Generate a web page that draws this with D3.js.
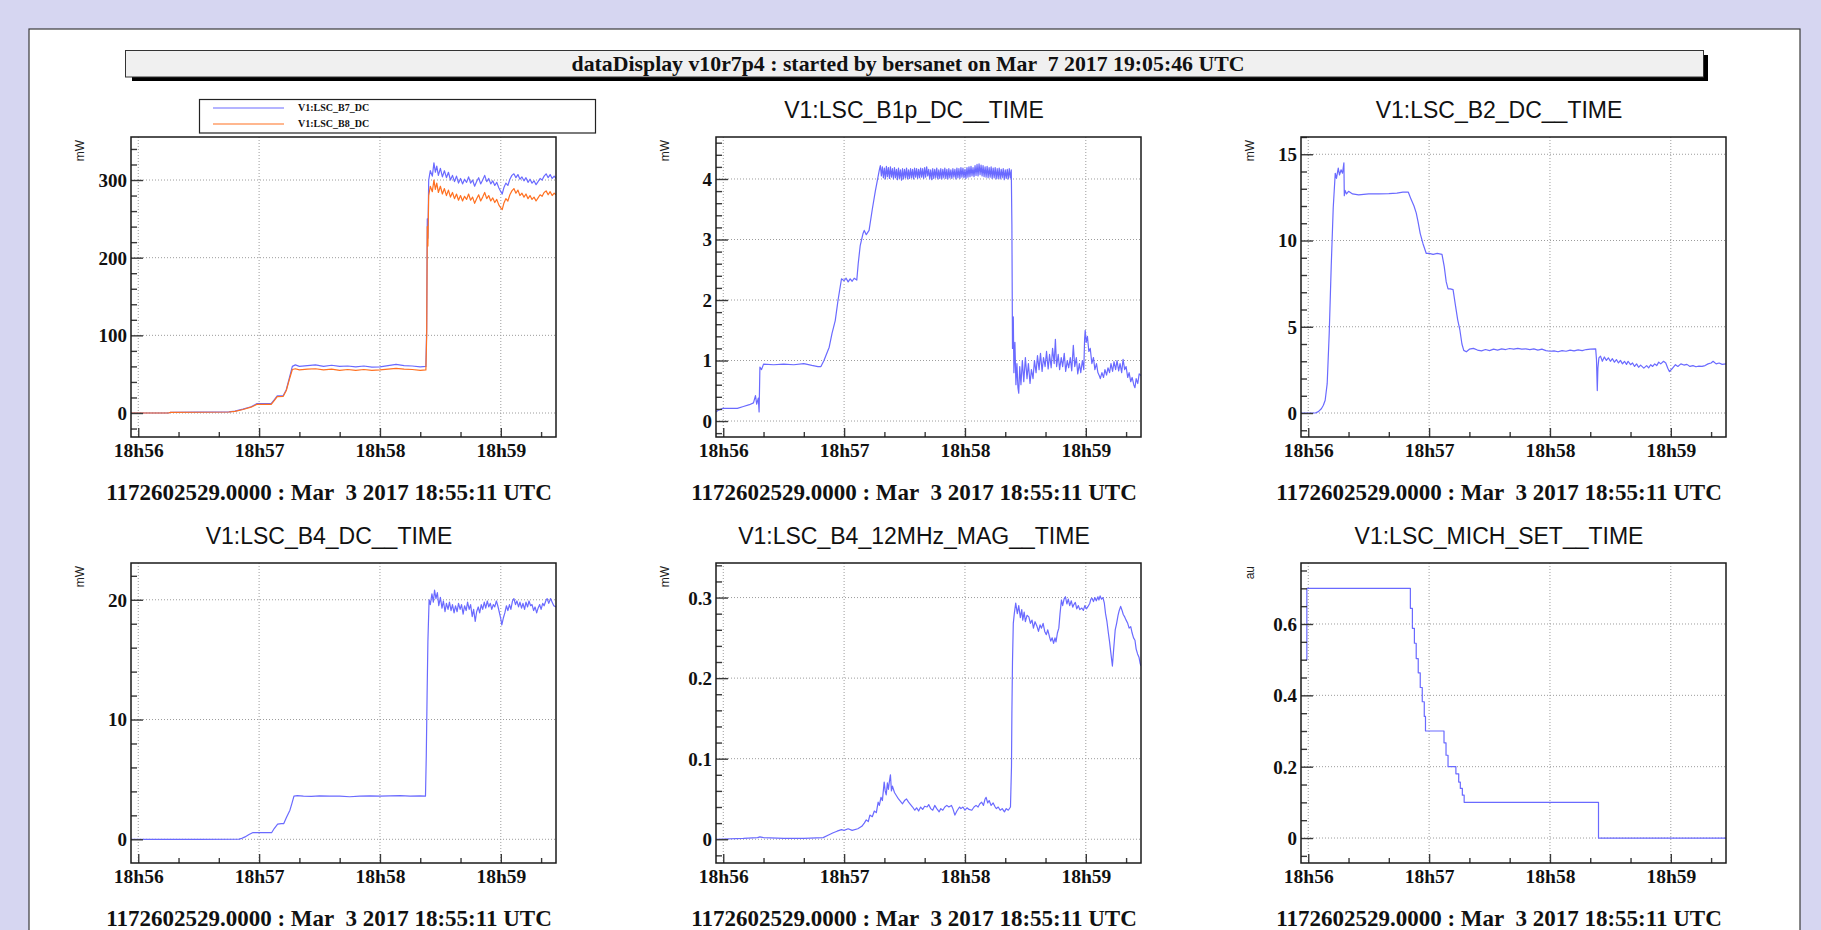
<!DOCTYPE html>
<html><head><meta charset="utf-8">
<script src="https://cdn.jsdelivr.net/npm/d3@7"></script>
<style>
html,body{margin:0;padding:0;background:#d6d6f1;overflow:hidden}
svg{display:block}
text{white-space:pre}
</style></head><body>
<svg id="c" width="1821" height="930"></svg>
<script>
// ---------------- DATA (time in seconds after 18h56m00s UTC) ----------------
const timeDomain = [-3.6, 207.4];
const xTickTimes = [0, 60, 120, 180];
const xTickLabels = ["18h56", "18h57", "18h58", "18h59"];
const xMinorTimes = [20, 40, 80, 100, 140, 160, 200];

const headerText = "dataDisplay v10r7p4 : started by bersanet on Mar  7 2017 19:05:46 UTC";
const startText = "1172602529.0000 : Mar  3 2017 18:55:11 UTC";
const panelTitles = ["", "V1:LSC_B1p_DC__TIME", "V1:LSC_B2_DC__TIME", "V1:LSC_B4_DC__TIME", "V1:LSC_B4_12MHz_MAG__TIME", "V1:LSC_MICH_SET__TIME"];
const unitLabels = ["mW", "mW", "mW", "mW", "mW", "au"];
const legendLabels = ["V1:LSC_B7_DC", "V1:LSC_B8_DC"];

const yMajorTicks = [[0,100,200,300],[0,1,2,3,4],[0,5,10,15],[0,10,20],[0,0.1,0.2,0.3],[0,0.2,0.4,0.6]];
const yMinorSteps = [20, 0.2, 1, 2, 0.02, 0.05];
const yDomains = [[-30.9,355.4],[-0.264,4.694],[-1.39,16.0],[-1.98,23.07],[-0.0295,0.3429],[-0.070,0.771]];

const b7 = [[-3.6,0],[15,0],[16,1],[30,1.2],[45,1.5],[48,2.5],[52,5],[56,8],[58.8,12],[62,12.2],[66,12],[67.5,17],[69,22],[72,22.5],[73.5,30],[75,45],[76.5,60],[78,62],[80,60],[84,61],[88,62],[92,60],[96,61.5],[100,60],[104,60.5],[108,59.5],[112,60.5],[116,59],[120,59.5],[124,61],[128,62.5],[132,61],[136,60.5],[140,59.5],[142.8,60],[143.2,110],[143.5,250],[143.8,225],[144.2,300],[145,312],[146,305],[146.8,322],[147.5,310],[148.2,318],[149,306],[150,315],[151,304],[152,312],[153,303],[154,310],[155,300],[156,306],[157,298],[158,305],[159,296],[160,302],[161,295],[162,301],[163,297],[164,304],[165,296],[166,300],[167,292],[168,298],[169,303],[170,295],[171,300],[172,306],[173,298],[174,302],[175,295],[176,299],[177,293],[178,297],[179,290],[180,285],[180.7,282],[181.5,290],[182.5,296],[183.5,293],[184.5,301],[185.5,306],[186.5,308],[187.5,303],[188.5,307],[189.5,301],[190.5,304],[191.5,299],[192.5,303],[193.5,297],[194.5,301],[195.5,296],[196.5,299],[197.5,294],[198.5,298],[199.5,302],[200.5,300],[201.5,305],[202.5,308],[203.5,303],[204.5,307],[205.5,302],[206.5,305],[207.4,302]];

const b8 = [[-3.6,0],[15,0],[16,0.8],[30,1],[45,1.3],[48,2.2],[52,4.5],[56,7.5],[58.8,11],[62,11.2],[66,11],[67.5,16],[69,21],[72,21.5],[73.5,29],[75,43],[76.5,56],[78,57],[80,55.5],[84,56.5],[88,57],[92,55.5],[96,56.5],[100,55],[104,56],[108,55],[112,56],[116,55],[120,55.5],[124,56.5],[128,57.5],[132,56.5],[136,56],[140,55],[142.8,55.5],[143.2,100],[143.5,240],[143.8,215],[144.2,280],[145,292],[146,285],[146.8,300],[147.5,288],[148.2,296],[149,284],[150,292],[151,282],[152,289],[153,280],[154,287],[155,278],[156,284],[157,276],[158,282],[159,274],[160,280],[161,273],[162,279],[163,275],[164,282],[165,274],[166,278],[167,270],[168,276],[169,281],[170,273],[171,278],[172,284],[173,276],[174,280],[175,273],[176,277],[177,271],[178,275],[179,268],[180,264],[180.7,262],[181.5,270],[182.5,276],[183.5,273],[184.5,281],[185.5,286],[186.5,289],[187.5,283],[188.5,287],[189.5,280],[190.5,283],[191.5,278],[192.5,282],[193.5,276],[194.5,280],[195.5,275],[196.5,278],[197.5,273],[198.5,277],[199.5,281],[200.5,279],[201.5,284],[202.5,286],[203.5,281],[204.5,285],[205.5,280],[206.5,283],[207.4,281]];

const b1p = [[-3.6,0.15],[-2.4,0.18],[0,0.21],[7,0.21],[10,0.24],[13,0.27],[15,0.3],[16,0.42],[16.6,0.28],[17.4,0.38],[17.8,0.15],[18.2,0.89],[19,0.85],[20,0.94],[25,0.93],[30,0.94],[35,0.93],[40,0.95],[44,0.92],[47,0.9],[48.5,0.9],[50,1.0],[52.6,1.22],[54,1.45],[55.6,1.66],[57,2.0],[58.7,2.35],[60,2.32],[61,2.36],[62,2.3],[63,2.35],[64,2.31],[65,2.36],[66.3,2.33],[67,2.6],[68,2.9],[69.4,3.1],[70,3.15],[71,3.08],[72.4,3.15],[74,3.5],[75.5,3.8],[77.5,4.15],[78,4.22],
[78.5,4.05],[79,4.2],[79.5,4.02],[80,4.18],[80.5,4.0],[81,4.21],[81.5,4.04],[82,4.19],[82.5,4.01],[83,4.2],[83.5,4.03],[84,4.17],[84.5,4.0],[85,4.19],[85.5,4.02],[86,4.16],[86.5,3.99],[87,4.18],[87.5,4.01],[88,4.15],[88.5,3.98],[89,4.17],[89.5,4.0],[90,4.16],[90.5,4.02],[91,4.18],[91.5,4.0],[92,4.15],[92.5,4.01],[93,4.17],[93.5,4.02],[94,4.16],[94.5,4.0],[95,4.18],[95.5,4.03],[96,4.17],[96.5,4.01],[97,4.16],[97.5,4.02],[98,4.18],[98.5,4.03],[99,4.17],[99.5,4.01],[100,4.19],[100.5,4.03],[101,4.2],[101.5,4.05],[102,4.16],[102.5,4.0],[103,4.15],[103.5,3.99],[104,4.17],[104.5,4.01],[105,4.16],[105.5,4.02],[106,4.18],[106.5,4.0],[107,4.15],[107.5,4.01],[108,4.17],[108.5,4.0],[109,4.16],[109.5,4.02],[110,4.18],[110.5,4.01],[111,4.16],[111.5,4.0],[112,4.17],[112.5,4.02],[113,4.15],[113.5,4.01],[114,4.17],[114.5,4.03],[115,4.16],[115.5,4.0],[116,4.18],[116.5,4.02],[117,4.17],[117.5,4.01],[118,4.19],[118.5,4.03],[119,4.18],[119.5,4.02],[120,4.16],[120.5,4.01],[121,4.19],[121.5,4.03],[122,4.2],[122.5,4.04],[123,4.21],[123.5,4.05],[124,4.19],[124.5,4.04],[125,4.22],[125.5,4.06],[126,4.24],[126.5,4.05],[127,4.25],[127.5,4.07],[128,4.23],[128.5,4.05],[129,4.22],[129.5,4.04],[130,4.2],[130.5,4.03],[131,4.21],[131.5,4.02],[132,4.19],[132.5,4.03],[133,4.2],[133.5,4.01],[134,4.18],[134.5,4.02],[135,4.19],[135.5,4.0],[136,4.17],[136.5,4.01],[137,4.18],[137.5,4.0],[138,4.16],[138.5,4.02],[139,4.17],[139.5,3.99],[140,4.15],[140.5,4.01],[141,4.16],[141.5,4.0],[142,4.17],[142.5,4.02],[143,4.15],
[143.3,3.25],[143.6,1.2],[144.0,1.72],[144.3,0.8],[144.8,1.3],[145.3,0.6],[145.8,0.95],[146.3,0.55],[146.7,0.46],[147.2,0.9],[147.8,0.6],[148.5,1.0],[149.2,0.65],[150,1.05],[150.8,0.7],[151.5,0.95],[152.3,0.62],[153,0.85],[153.8,0.7],[154.5,1.0],[155.3,0.8],[156,1.08],[156.8,0.85],[157.5,1.12],[158.3,0.82],[159,1.05],[159.8,0.9],[160.5,1.15],[161.3,0.86],[162,1.1],[162.8,0.88],[163.5,1.2],[164.3,0.95],[164.9,1.35],[165.5,0.9],[166.3,1.1],[167,0.85],[167.8,1.05],[168.5,0.9],[169.3,1.12],[170,0.82],[170.8,1.0],[171.5,0.88],[172.3,1.05],[173,0.83],[173.8,1.25],[174.5,0.9],[175.3,1.05],[176,0.78],[176.8,0.95],[177.5,0.8],[178.3,1.0],[179,0.85],[179.4,1.35],[179.7,1.5],[180.2,1.3],[180.8,1.4],[181.5,1.15],[182.2,1.2],[183,0.95],[183.8,1.05],[184.5,0.85],[185.3,0.95],[186,0.8],[186.7,0.75],[187.2,0.7],[188,0.8],[188.8,0.72],[189.5,0.85],[190.3,0.76],[191,0.88],[191.8,0.8],[192.5,0.95],[193.3,0.82],[194,0.98],[194.8,0.85],[195.5,1.0],[196.3,0.83],[197,0.95],[197.8,0.8],[198.5,1.02],[199.3,0.85],[200,0.9],[200.8,0.72],[201.5,0.8],[202.3,0.65],[203,0.72],[203.8,0.6],[204.4,0.55],[205,0.7],[205.8,0.62],[206.5,0.78],[207.4,0.75]];

const b2 = [[-3.6,0],[3.5,0],[5,0.08],[6.5,0.25],[7.5,0.45],[8.4,0.74],[9.4,1.7],[10.4,4.6],[11.4,8.5],[12.4,11.9],[13.4,13.9],[14,13.6],[14.9,14.2],[15.5,13.8],[16.3,14.1],[17,13.9],[17.7,14.5],[17.9,12.6],[18.3,12.9],[19,12.7],[20,12.85],[22,12.7],[25,12.65],[30,12.7],[35,12.7],[40,12.72],[44,12.75],[47,12.8],[49.7,12.8],[51,12.4],[52.5,12],[53.6,11.6],[54.5,11.1],[55.6,10.4],[57,9.8],[58.6,9.25],[60,9.25],[62,9.2],[64,9.25],[66.4,9.2],[67.5,8.5],[68.5,7.6],[69.4,7.2],[70.5,7.2],[71.9,7.15],[73,6.3],[74.2,5.4],[75.3,4.8],[76.3,4.0],[77.2,3.63],[78.5,3.55],[80,3.7],[82,3.75],[84,3.65],[86,3.6],[88,3.68],[90,3.62],[92,3.7],[94,3.65],[96,3.72],[98,3.68],[100,3.74],[102,3.7],[104,3.75],[106,3.7],[108,3.72],[110,3.68],[112,3.72],[114,3.65],[116,3.7],[118,3.62],[120,3.58],[122,3.6],[124,3.55],[126,3.62],[128,3.58],[130,3.65],[132,3.6],[134,3.66],[136,3.62],[138,3.68],[140,3.7],[142.7,3.72],[143.1,3.1],[143.5,1.3],[143.8,2.6],[144.3,3.2],[145.1,3.3],[146,3.0],[147,3.25],[148,3.05],[149,3.2],[150,3.0],[151,3.15],[152,2.95],[153,3.1],[154,2.9],[155,3.05],[156,2.85],[157,3.0],[158,2.82],[158.8,3.0],[160,2.8],[161,2.9],[162,2.7],[163,2.85],[164,2.65],[165,2.78],[166.6,2.6],[168,2.75],[169,2.62],[170,2.8],[171,2.7],[172,2.85],[173,2.75],[174,2.95],[175,2.85],[176.4,3.0],[177.5,2.9],[178.5,2.6],[179.3,2.4],[180.5,2.55],[182.3,2.8],[183.5,2.7],[185,2.85],[186.5,2.78],[188,2.82],[189.5,2.7],[191,2.75],[192.5,2.68],[194,2.72],[195.5,2.7],[197,2.75],[198.5,2.85],[200,2.9],[201,3.0],[202.5,2.85],[204,2.9],[205.5,2.82],[207.4,2.85]];

const b4 = [[-3.6,0],[30,0],[50,0.02],[51,0.05],[53,0.2],[55,0.4],[57,0.56],[60,0.55],[63,0.56],[66.2,0.55],[67.5,0.9],[69.2,1.26],[71,1.3],[72.2,1.3],[73.5,1.8],[75.3,2.43],[76.3,3.0],[77.3,3.6],[79,3.65],[82,3.6],[86,3.58],[90,3.62],[95,3.6],[100,3.6],[105,3.55],[110,3.6],[115,3.62],[120,3.6],[125,3.63],[130,3.65],[135,3.6],[140,3.62],[142.6,3.6],[143,7],[143.4,12],[143.8,16.5],[144.4,20],[145,19.6],[145.8,20.5],[146.5,19.8],[147.1,20.8],[147.8,20.1],[148.5,20.6],[149.2,19.5],[150,20.2],[150.8,19.3],[151.5,19.9],[152.3,19.0],[153,19.7],[153.8,19.2],[154.5,19.8],[155.3,19.1],[156,19.6],[156.8,18.9],[157.5,19.5],[158.3,19.0],[159,19.7],[159.8,19.2],[160.5,19.6],[161.3,18.8],[162,19.5],[162.8,19.1],[163.5,19.8],[164.3,19.2],[165,19.6],[165.8,18.6],[166.5,19.2],[167.3,18.2],[168,19.0],[168.8,19.4],[169.5,18.9],[170.3,19.6],[171,19.2],[171.8,19.8],[172.5,19.3],[173.3,19.9],[174,19.4],[174.8,19.7],[175.5,19.2],[176.3,19.6],[177,19.4],[177.8,19.9],[178.5,19.5],[179.2,19.0],[180,18.4],[180.5,17.9],[181.3,18.5],[182,18.9],[182.8,19.5],[183.5,19.1],[184.3,19.6],[185,19.2],[185.8,19.9],[186.5,20.1],[187.3,19.6],[188,19.9],[188.8,19.4],[189.5,19.8],[190.3,19.3],[191,19.7],[191.8,19.2],[192.5,19.8],[193.3,19.4],[194,19.9],[194.8,19.5],[195.5,19.6],[196.3,19.1],[197,19.4],[197.8,18.9],[198.5,19.3],[199.3,19.6],[200,19.2],[200.8,19.7],[201.5,19.5],[202.3,19.9],[203,20.1],[203.8,19.7],[204.7,20.1],[205.5,19.8],[206.3,19.5],[207.4,19.4]];

const b4mag = [[-3.6,0],[10,0.001],[17,0.002],[18.2,0.003],[20,0.002],[30,0.001],[40,0.001],[49.6,0.002],[52,0.005],[54.6,0.008],[56.5,0.01],[58.7,0.012],[60,0.011],[62,0.013],[64,0.011],[66.8,0.013],[68.8,0.016],[70,0.02],[71,0.024],[72,0.022],[72.8,0.03],[74,0.028],[75,0.035],[76,0.033],[76.9,0.046],[77.5,0.042],[78.3,0.052],[79,0.048],[79.9,0.071],[80.4,0.06],[80.9,0.055],[81.5,0.07],[82,0.062],[82.5,0.072],[83,0.08],[83.5,0.06],[84,0.066],[85,0.058],[86,0.054],[87,0.05],[88,0.047],[89,0.044],[90,0.048],[91,0.05],[92,0.046],[93,0.043],[94,0.04],[95.1,0.036],[96,0.039],[97,0.035],[98,0.04],[99,0.037],[100,0.041],[101.2,0.04],[102,0.043],[103,0.038],[104,0.036],[105,0.042],[106,0.038],[107.2,0.034],[108,0.038],[109,0.036],[110,0.04],[111,0.042],[112,0.04],[113.3,0.042],[114,0.038],[115,0.03],[116,0.035],[117.3,0.04],[118,0.038],[119,0.04],[120,0.036],[121,0.039],[122,0.037],[123.4,0.036],[124.5,0.04],[125.5,0.042],[126.5,0.04],[127.4,0.044],[128.3,0.046],[129.2,0.042],[130,0.05],[130.5,0.052],[131.3,0.045],[132,0.048],[133,0.042],[134,0.045],[135,0.04],[135.6,0.038],[136.5,0.04],[137.5,0.036],[138.5,0.038],[139.6,0.034],[140.5,0.038],[141.5,0.036],[142.6,0.04],[143.1,0.09],[143.3,0.156],[143.6,0.22],[144,0.268],[144.5,0.28],[145.2,0.293],[146,0.28],[146.7,0.29],[147.5,0.275],[148.2,0.285],[148.7,0.272],[149.4,0.282],[150,0.27],[150.8,0.278],[151.7,0.276],[152.5,0.268],[153.3,0.272],[154,0.262],[154.8,0.27],[155.8,0.264],[156.5,0.258],[157.3,0.266],[158,0.262],[158.8,0.268],[159.6,0.258],[160.4,0.254],[161.1,0.26],[161.9,0.252],[162.6,0.246],[163.3,0.25],[164,0.243],[164.7,0.25],[165.2,0.245],[165.9,0.256],[166.6,0.262],[167.2,0.28],[167.9,0.297],[168.5,0.29],[169.2,0.298],[169.9,0.301],[170.6,0.292],[171.3,0.298],[172,0.29],[172.8,0.296],[173.5,0.288],[174,0.291],[174.8,0.294],[175.5,0.286],[176.3,0.29],[177,0.285],[178,0.287],[178.8,0.284],[179.5,0.29],[180.3,0.286],[181.1,0.289],[182,0.293],[182.5,0.298],[183.1,0.299],[183.8,0.295],[184.5,0.3],[185.2,0.296],[186,0.301],[186.5,0.297],[187.1,0.302],[187.8,0.298],[188.5,0.3],[189.2,0.293],[189.8,0.28],[190.5,0.27],[191.2,0.256],[191.8,0.245],[192.4,0.232],[193.2,0.215],[193.8,0.235],[194.6,0.26],[195.3,0.268],[196,0.278],[196.6,0.284],[197.3,0.289],[198,0.284],[198.6,0.279],[199.3,0.276],[200,0.272],[200.8,0.268],[201.5,0.262],[202.3,0.264],[203,0.256],[203.7,0.25],[204.4,0.247],[205,0.236],[205.7,0.23],[206.4,0.226],[207,0.218],[207.4,0.215]];

const michSet = [[-1.2,0.5],[-0.7,0.7],[50.7,0.644],[51.7,0.588],[52.7,0.546],[53.6,0.503],[54.6,0.463],[55.6,0.422],[56.6,0.382],[57.6,0.341],[58.2,0.3],[67.4,0.267],[68.4,0.232],[69.4,0.2],[73.3,0.18],[74.7,0.157],[75.5,0.139],[76.5,0.12],[77.4,0.1],[144.1,0],[207.4,0]];

// ---------------- LAYOUT ----------------
const colLeft = [131, 716, 1301];
const rowTop = [137, 563];
const FW = 425, FH = 300;
const BLUE = "#6a6aff", ORANGE = "#ff7020";
const SERIF = "'Liberation Serif','Times New Roman',serif";
const SANS = "'Liberation Sans',Arial,Helvetica,sans-serif";

const seriesPerPanel = [
  [{data: b7, color: BLUE, step: false}, {data: b8, color: ORANGE, step: false}],
  [{data: b1p, color: BLUE, step: false}],
  [{data: b2, color: BLUE, step: false}],
  [{data: b4, color: BLUE, step: false}],
  [{data: b4mag, color: BLUE, step: false}],
  [{data: michSet, color: BLUE, step: true}]
];

const svg = d3.select("#c");
// white canvas pad
svg.append("rect").attr("x", 29).attr("y", 29).attr("width", 1771).attr("height", 920)
  .attr("fill", "#fff").attr("stroke", "#3a3a3a").attr("stroke-width", 1.2);

// header box with shadow
svg.append("rect").attr("x", 132).attr("y", 55).attr("width", 1576).attr("height", 26).attr("fill", "#000");
svg.append("rect").attr("x", 125.5).attr("y", 50.5).attr("width", 1578).attr("height", 26.5)
  .attr("fill", "#f0f0f0").attr("stroke", "#333").attr("stroke-width", 1);
svg.append("text").attr("x", 908).attr("y", 70.5).attr("text-anchor", "middle")
  .attr("font-family", SERIF).attr("font-weight", "bold").attr("font-size", 21.8).attr("fill", "#111")
  .text(headerText);

const defs = svg.append("defs");

seriesPerPanel.forEach((series, i) => {
  const left = colLeft[i % 3], top = rowTop[Math.floor(i / 3)];
  const bottom = top + FH, right = left + FW;
  const x = d3.scaleLinear().domain(timeDomain).range([left, right]);
  const y = d3.scaleLinear().domain(yDomains[i]).range([bottom, top]);
  const g = svg.append("g");

  // grid
  g.selectAll(null).data(xTickTimes).join("line")
    .attr("x1", d => x(d)).attr("x2", d => x(d)).attr("y1", top).attr("y2", bottom)
    .attr("stroke", "#9c9c9c").attr("stroke-width", 1).attr("stroke-dasharray", "1,2");
  g.selectAll(null).data(yMajorTicks[i]).join("line")
    .attr("x1", left).attr("x2", right).attr("y1", d => y(d)).attr("y2", d => y(d))
    .attr("stroke", "#9c9c9c").attr("stroke-width", 1).attr("stroke-dasharray", "1,2");

  // clip
  const cid = "clip" + i;
  defs.append("clipPath").attr("id", cid).append("rect")
    .attr("x", left).attr("y", top).attr("width", FW).attr("height", FH);

  // data lines
  series.forEach(s => {
    const line = d3.line().x(d => x(d[0])).y(d => y(d[1]))
      .curve(s.step ? d3.curveStepAfter : d3.curveLinear);
    g.append("path").attr("clip-path", `url(#${cid})`).attr("d", line(s.data))
      .attr("fill", "none").attr("stroke", s.color).attr("stroke-width", 1.2)
      .attr("stroke-linejoin", "round");
  });

  // axes (ticks inside the frame)
  const [d0, d1] = yDomains[i];
  const step = yMinorSteps[i];
  const minors = d3.range(Math.ceil(d0 / step), Math.floor(d1 / step) + 1).map(k => +(k * step).toFixed(4))
    .filter(v => !yMajorTicks[i].some(m => Math.abs(m - v) < step / 10));

  const fmt = d => String(+(+d).toFixed(2));
  const yAxis = g.append("g").attr("transform", `translate(${left},0)`)
    .call(d3.axisLeft(y).tickValues(yMajorTicks[i]).tickFormat(fmt).tickSizeInner(-12).tickSizeOuter(0).tickPadding(4));
  const yMinor = g.append("g").attr("transform", `translate(${left},0)`)
    .call(d3.axisLeft(y).tickValues(minors).tickFormat("").tickSizeInner(-6).tickSizeOuter(0));
  const xAxis = g.append("g").attr("transform", `translate(0,${bottom})`)
    .call(d3.axisBottom(x).tickValues(xTickTimes).tickFormat((d, k) => xTickLabels[k]).tickSizeInner(-9).tickSizeOuter(0).tickPadding(0));
  const xMinor = g.append("g").attr("transform", `translate(0,${bottom})`)
    .call(d3.axisBottom(x).tickValues(xMinorTimes).tickFormat("").tickSizeInner(-5).tickSizeOuter(0));

  [yAxis, yMinor, xAxis, xMinor].forEach(a => {
    a.select(".domain").remove();
    a.selectAll(".tick line").attr("stroke", "#3a3a3a").attr("stroke-width", 1.4);
  });
  yAxis.selectAll("text").attr("font-family", SERIF).attr("font-weight", "bold")
    .attr("font-size", 19).attr("fill", "#111").attr("dy", "0.34em");
  xAxis.selectAll("text").attr("font-family", SERIF).attr("font-weight", "bold")
    .attr("font-size", 19.5).attr("fill", "#111").attr("y", 20).attr("dy", null);

  // frame
  g.append("rect").attr("x", left).attr("y", top).attr("width", FW).attr("height", FH)
    .attr("fill", "none").attr("stroke", "#1a1a1a").attr("stroke-width", 1.5);

  // unit label
  g.append("text").attr("transform", `translate(${left - 47},${top + 3}) rotate(-90)`)
    .attr("text-anchor", "end").attr("font-family", SANS).attr("font-size", 12).attr("fill", "#222")
    .text(unitLabels[i]);

  // panel title
  if (panelTitles[i]) {
    g.append("text").attr("x", left + 198).attr("y", top - 19).attr("text-anchor", "middle")
      .attr("font-family", SANS).attr("font-size", 23).attr("fill", "#111").text(panelTitles[i]);
  }
  // start-time line
  g.append("text").attr("x", left + 198).attr("y", bottom + 63).attr("text-anchor", "middle")
    .attr("font-family", SERIF).attr("font-weight", "bold").attr("font-size", 23).attr("fill", "#111")
    .text(startText);
});

// legend (first panel)
const lg = svg.append("g");
lg.append("rect").attr("x", 199.5).attr("y", 99.5).attr("width", 396).attr("height", 33.5)
  .attr("fill", "#fff").attr("stroke", "#222").attr("stroke-width", 1.2);
const legendColors = [BLUE, ORANGE];
legendLabels.forEach((lab, k) => {
  const ly = 108 + k * 16;
  lg.append("line").attr("x1", 213).attr("x2", 284).attr("y1", ly).attr("y2", ly)
    .attr("stroke", legendColors[k]).attr("stroke-width", 1.2);
  lg.append("text").attr("x", 298).attr("y", ly + 3).attr("font-family", SERIF).attr("font-weight", "bold")
    .attr("font-size", 10).attr("fill", "#111").text(lab);
});
</script>
</body></html>
